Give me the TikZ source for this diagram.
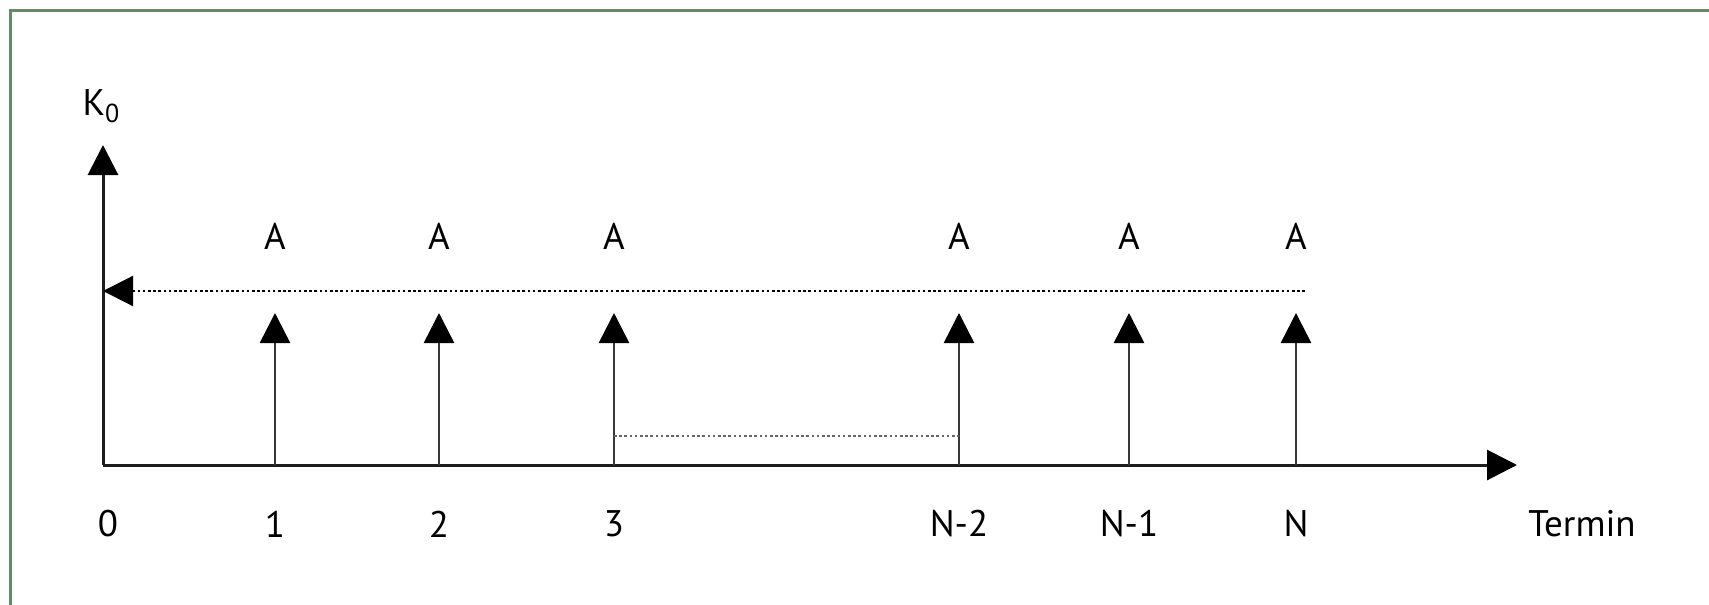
\documentclass[tikz,border=0pt]{standalone}
\usepackage{fontspec}
\setmainfont{PT Sans}
\usetikzlibrary{arrows.meta}
\definecolor{boxgreen}{RGB}{95,140,105}
\definecolor{axisgray}{RGB}{30,30,30}
\definecolor{paygray}{RGB}{55,55,55}
\tikzset{
  tip/.style={-{Triangle[width=15pt,length=15pt,color=black]}},
  axis/.style={draw=axisgray, line width=1.5pt, tip},
  pay/.style={draw=paygray, line width=1.3pt, tip},
  dotline/.style={draw=black, line width=1.1pt, dash pattern=on 1.3pt off 1.3pt, tip},
  faintdot/.style={draw=black!60, line width=1pt, dash pattern=on 1.3pt off 1.3pt},
  lbl/.style={inner sep=0pt, font=\fontsize{18.5}{22}\selectfont},
}
\begin{document}
\begin{tikzpicture}[x=0.5pt,y=-0.5pt]
\useasboundingbox (0,0) rectangle (1709,605);
\draw[boxgreen, line width=1.5pt] (10,10) rectangle (1780,680);
% axes
\coordinate (O) at (103,465);
\coordinate (Ytop) at (103,145);
\coordinate (Xend) at (1517,465);
\draw[axis] (O) -- (Ytop);
\draw[axis] (O) -- (Xend);
\node[lbl] (K0) at (101,106) {K\raisebox{-0.4ex}{\fontsize{13}{13}\selectfont 0}};
% payment arrows
\foreach \n/\x/\t in {1/275/1, 2/439/2, 3/614/3, 4/959/N-2, 5/1129/N-1, 6/1296/N}{
  \coordinate (b\n) at (\x,465);
  \coordinate (t\n) at (\x,313);
  \draw[pay] (b\n) -- (t\n);
  \node[lbl] (A\n) at (\x,236) {A};
  \node[lbl] (L\n) at (\x,524) {\t};
}
\node[lbl] (L0) at (108,524) {0};
\node[lbl] (term) at (1582,524) {Termin};
% discounting line
\coordinate (Dr) at (1305,291);
\coordinate (Dl) at (103,291);
\draw[dotline] (Dr) -- (Dl);
% gap indicator
\coordinate (g1) at (614,436);
\coordinate (g2) at (959,436);
\draw[faintdot] (g1) -- (g2);
\end{tikzpicture}
\end{document}
